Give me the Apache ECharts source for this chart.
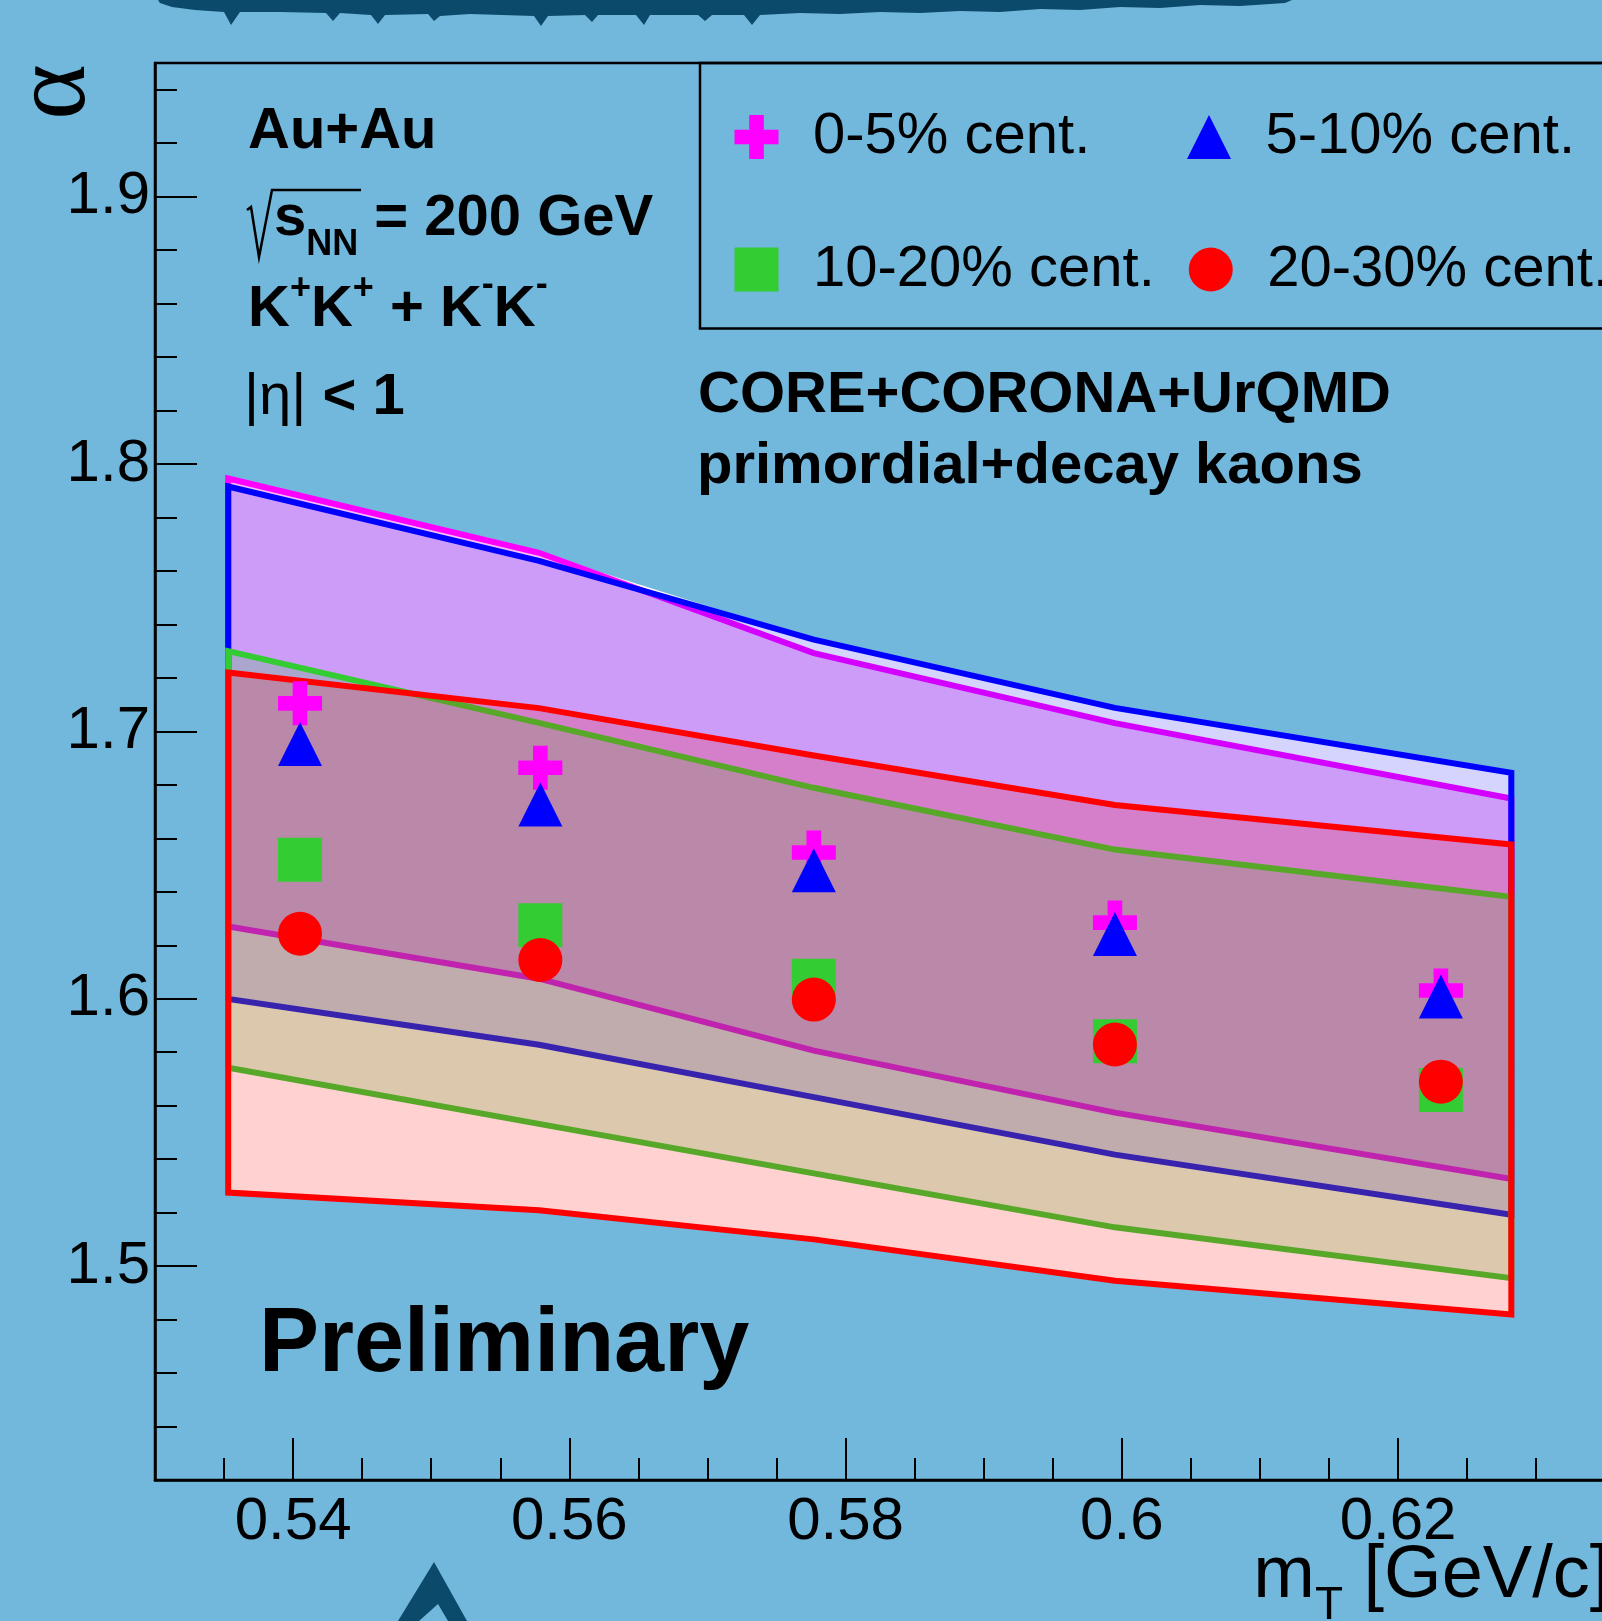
<!DOCTYPE html>
<html>
<head>
<meta charset="utf-8">
<script src="https://cdn.jsdelivr.net/npm/echarts@6/dist/echarts.min.js"></script>
<style>
  html, body { margin: 0; padding: 0; background: #72b7dc; }
  #chart { width: 1602px; height: 1621px; }
</style>
</head>
<body>
<div id="chart"></div>
<script>
// Mean transverse mass of each kT bin [GeV/c]
const mtPoints = [0.5405, 0.5579, 0.5777, 0.5995, 0.6231];

// Levy index alpha per centrality class
const alpha0to5   = [1.7105, 1.6864, 1.6547, 1.6285, 1.6031];
const alpha5to10  = [1.6953, 1.6727, 1.6481, 1.6242, 1.6008];
const alpha10to20 = [1.6520, 1.6275, 1.6067, 1.5841, 1.5659];
const alpha20to30 = [1.6243, 1.6145, 1.5997, 1.5829, 1.5690];

// CORE+CORONA+UrQMD model bands (upper / lower edge at each vertex)
const bandMt = [0.5353, 0.5578, 0.5777, 0.5995, 0.6282];
const band0to5Upper   = [1.7946, 1.7668, 1.7293, 1.7031, 1.6749];
const band0to5Lower   = [1.6270, 1.6075, 1.5806, 1.5574, 1.5326];
const band5to10Upper  = [1.7916, 1.7638, 1.7343, 1.7088, 1.6845];
const band5to10Lower  = [1.5999, 1.5828, 1.5632, 1.5417, 1.5192];
const band10to20Upper = [1.7300, 1.7032, 1.6789, 1.6558, 1.6381];
const band10to20Lower = [1.5742, 1.5532, 1.5347, 1.5145, 1.4955];
const band20to30Upper = [1.7220, 1.7087, 1.6910, 1.6725, 1.6577];
const band20to30Lower = [1.5275, 1.5209, 1.5100, 1.4945, 1.4819];

// Axis tick labels
const xTickLabels = [0.54, 0.56, 0.58, 0.6, 0.62];
const yTickLabels = [1.5, 1.6, 1.7, 1.8, 1.9];

const seriesNames = ['0-5% cent.', '5-10% cent.', '10-20% cent.', '20-30% cent.'];

const FONT = '"Liberation Sans", Arial, Helvetica, sans-serif';
const X_MIN = 0.53, X_MAX = 0.64, Y_MIN = 1.42, Y_MAX = 1.95;

// minor ticks: every 0.005 on x, every 0.02 on y, skipping the labelled ones
const xMinorTicks = [];
for (let k = 107; k <= 127; k++) if (k % 4 !== 0) xMinorTicks.push(+(k * 0.005).toFixed(3));
const yMinorTicks = [];
for (let k = 72; k <= 97; k++) if (k % 5 !== 0) yMinorTicks.push(+(k * 0.02).toFixed(2));

const PLUS = 'path://M1 0H2V1H3V2H2V3H1V2H0V1H1Z';

// filled polygon spanning a model band, outlined like a TGraph fill
function bandSeries(name, upper, lower, stroke, fill, lineWidth) {
  return {
    type: 'custom',
    name: name,
    z: 2,
    silent: true,
    data: bandMt.map((x, i) => [x, upper[i], lower[i]]),
    renderItem(params, api) {
      if (params.dataIndex !== 0) return;
      const top = bandMt.map((x, i) => api.coord([x, upper[i]]));
      const bottom = bandMt.map((x, i) => api.coord([x, lower[i]])).reverse();
      return {
        type: 'polygon',
        shape: { points: top.concat(bottom) },
        style: { fill: fill, stroke: stroke, lineWidth: lineWidth, lineJoin: 'miter' }
      };
    }
  };
}

// opaque white base under the translucent bands
const envelopeUpper = bandMt.map((x, i) => Math.max(band0to5Upper[i], band5to10Upper[i]));

function pointSeries(name, values, symbol, color, size) {
  return {
    type: 'scatter',
    name: name,
    z: 4,
    symbol: symbol,
    symbolSize: size,
    itemStyle: { color: color, opacity: 1 },
    emphasis: { disabled: true },
    data: mtPoints.map((x, i) => [x, values[i]])
  };
}

function legendRow(names, top) {
  return {
    data: names,
    left: 734.5, top: top, width: 1000, orient: 'horizontal', padding: 0,
    itemWidth: 44, itemHeight: 44, itemGap: 34, selectedMode: false,
    textStyle: { fontSize: 58, fontFamily: FONT, color: '#000', width: 340, lineHeight: 44, padding: [0, 0, 0, 29.5] }
  };
}

const topStrip = [[158,0],[1292,0],[1285,3],[1240,6],[1200,5],[1160,8],[1120,7],[1080,10],[1040,9],[1000,12],
  [960,11],[920,13],[880,12],[840,14],[800,13],[760,15],[752,25],[744,15],[712,15],[705,21],[698,15],[650,15],
  [644,25],[636,15],[598,15],[592,22],[585,15],[548,16],[541,26],[534,16],[470,14],[440,16],[434,21],[428,14],
  [385,15],[378,24],[371,15],[340,13],[333,21],[326,13],[280,12],[240,12],[231,25],[224,12],[195,10],[172,7],[160,3]];
const chevron = [[398,1621],[434,1562],[467,1621],[448,1621],[438,1604],[419,1621]];

const chart = echarts.init(document.getElementById('chart'), null, { renderer: 'canvas' });

chart.setOption({
  backgroundColor: '#72b7dc',
  animation: false,
  textStyle: { fontFamily: FONT },
  grid: {
    left: 155, top: 63, right: -72.3, bottom: 141,
    show: true, borderColor: '#000', borderWidth: 2.5, backgroundColor: 'transparent',
    outerBoundsMode: 'none', containLabel: false
  },
  xAxis: [
    {
      type: 'value', min: X_MIN, max: X_MAX, position: 'bottom',
      name: '{m|m}{t|T}{m| [GeV/c]}',
      nameLocation: 'end', nameGap: -64, nameMoveOverlap: false,
      nameTextStyle: {
        align: 'right', verticalAlign: 'top', padding: [61, 0, 0, 0],
        rich: {
          m: { fontSize: 74, fontFamily: FONT, color: '#000', lineHeight: 72 },
          t: { fontSize: 46, fontFamily: FONT, color: '#000', lineHeight: 72, padding: [58, 0, 0, 0] }
        }
      },
      axisLine: { show: true, lineStyle: { color: '#000', width: 2.5 } },
      axisTick: { show: true, inside: true, length: 42, customValues: xTickLabels, lineStyle: { color: '#000', width: 2 } },
      axisLabel: { show: true, customValues: xTickLabels, margin: 12, fontSize: 60, fontFamily: FONT, color: '#000',
        formatter: v => String(v) },
      splitLine: { show: false }
    },
    {
      type: 'value', min: X_MIN, max: X_MAX, position: 'bottom',
      axisLine: { show: false },
      axisTick: { show: true, inside: true, length: 22, customValues: xMinorTicks, lineStyle: { color: '#000', width: 2 } },
      axisLabel: { show: false },
      splitLine: { show: false }
    }
  ],
  yAxis: [
    {
      type: 'value', min: Y_MIN, max: Y_MAX, position: 'left',
      name: 'α', nameLocation: 'end', nameGap: -29, nameRotate: 90, nameMoveOverlap: false,
      nameTextStyle: {
        fontFamily: '"Liberation Serif", "DejaVu Serif", serif', fontSize: 106, color: '#000',
        align: 'center', verticalAlign: 'bottom', lineHeight: 106, padding: [0, 0, 46, 0]
      },
      axisLine: { show: true, lineStyle: { color: '#000', width: 2.5 } },
      axisTick: { show: true, inside: true, length: 42, customValues: yTickLabels, lineStyle: { color: '#000', width: 2 } },
      axisLabel: { show: true, customValues: yTickLabels, margin: 5, fontSize: 60, fontFamily: FONT, color: '#000',
        formatter: v => String(v) },
      splitLine: { show: false }
    },
    {
      type: 'value', min: Y_MIN, max: Y_MAX, position: 'left',
      axisLine: { show: false },
      axisTick: { show: true, inside: true, length: 22, customValues: yMinorTicks, lineStyle: { color: '#000', width: 2 } },
      axisLabel: { show: false },
      splitLine: { show: false }
    }
  ],
  legend: [
    legendRow([seriesNames[0], seriesNames[1]], 108),
    legendRow([seriesNames[2], seriesNames[3]], 240.5)
  ],
  series: [
    bandSeries('envelope', envelopeUpper, band20to30Lower, 'none', '#ffffff', 0),
    bandSeries('model 0-5%', band0to5Upper, band0to5Lower, '#ff00ff', 'rgba(221,7,224,0.27)', 6),
    bandSeries('model 5-10%', band5to10Upper, band5to10Lower, '#0000ff', 'rgba(0,0,255,0.17)', 6),
    bandSeries('model 10-20%', band10to20Upper, band10to20Lower, '#33cc33', 'rgba(51,204,51,0.21)', 6),
    bandSeries('model 20-30%', band20to30Upper, band20to30Lower, '#ff0000', 'rgba(255,0,0,0.18)', 6),
    pointSeries(seriesNames[0], alpha0to5, PLUS, '#ff00ff', 44),
    pointSeries(seriesNames[1], alpha5to10, 'triangle', '#0000ff', 44),
    pointSeries(seriesNames[2], alpha10to20, 'rect', '#33cc33', 44),
    pointSeries(seriesNames[3], alpha20to30, 'circle', '#ff0000', 44)
  ],
  graphic: [
    { type: 'polygon', z: 0, silent: true, shape: { points: topStrip }, style: { fill: '#0b4a6b' } },
    { type: 'polygon', z: 0, silent: true, shape: { points: chevron }, style: { fill: '#0b4a6b' } },
    { type: 'rect', z: 10, silent: true, shape: { x: 700, y: 63, width: 1000, height: 265.5 },
      style: { fill: 'none', stroke: '#000', lineWidth: 2.5 } },
    { type: 'text', z: 10, x: 248, y: 132, silent: true,
      style: { text: 'Au+Au', font: 'bold 58px ' + FONT, fill: '#000', align: 'left', verticalAlign: 'middle', textAlign: 'left', textVerticalAlign: 'middle' } },
    { type: 'polyline', z: 10, silent: true, shape: { points: [[247,210],[251,207],[259,257],[272,190],[361,190]] },
      style: { stroke: '#000', lineWidth: 2.5, fill: 'none' } },
    { type: 'text', z: 10, x: 274, y: 219, silent: true,
      style: {
        text: '{s|s}{n|NN}{s| = 200 GeV}', fill: '#000', align: 'left', verticalAlign: 'middle', textAlign: 'left', textVerticalAlign: 'middle',
        rich: {
          s: { fontSize: 58, fontWeight: 'bold', fontFamily: FONT, fill: '#000', lineHeight: 60 },
          n: { fontSize: 36, fontWeight: 'bold', fontFamily: FONT, fill: '#000', lineHeight: 60, padding: [53, 0, 0, 0] }
        }
      } },
    { type: 'text', z: 10, x: 248, y: 310, silent: true,
      style: {
        text: '{k|K}{p|+}{k|K}{p|+}{k| + K}{m|-}{k|K}{m|-}', fill: '#000', align: 'left', verticalAlign: 'middle', textAlign: 'left', textVerticalAlign: 'middle',
        rich: {
          k: { fontSize: 58, fontWeight: 'bold', fontFamily: FONT, fill: '#000', lineHeight: 60 },
          p: { fontSize: 36, fontWeight: 'bold', fontFamily: FONT, fill: '#000', lineHeight: 60, padding: [0, 0, 42, 0] },
          m: { fontSize: 36, fontWeight: 'bold', fontFamily: FONT, fill: '#000', lineHeight: 60, padding: [0, 0, 50, 0] }
        }
      } },
    { type: 'text', z: 10, x: 244, y: 398, silent: true,
      style: {
        text: '{r||η|}{b| < 1}', fill: '#000', align: 'left', verticalAlign: 'middle', textAlign: 'left', textVerticalAlign: 'middle',
        rich: {
          r: { fontSize: 58, fontFamily: FONT, fill: '#000', lineHeight: 60 },
          b: { fontSize: 58, fontWeight: 'bold', fontFamily: FONT, fill: '#000', lineHeight: 60 }
        }
      } },
    { type: 'text', z: 10, x: 698, y: 396, silent: true,
      style: { text: 'CORE+CORONA+UrQMD', font: 'bold 58px ' + FONT, fill: '#000', align: 'left', verticalAlign: 'middle', textAlign: 'left', textVerticalAlign: 'middle' } },
    { type: 'text', z: 10, x: 697, y: 467, silent: true,
      style: { text: 'primordial+decay kaons', font: 'bold 58px ' + FONT, fill: '#000', align: 'left', verticalAlign: 'middle', textAlign: 'left', textVerticalAlign: 'middle' } },
    { type: 'text', z: 10, x: 259, y: 1346, silent: true,
      style: { text: 'Preliminary', font: 'bold 90px ' + FONT, fill: '#000', align: 'left', verticalAlign: 'middle', textAlign: 'left', textVerticalAlign: 'middle' } }
  ]
});
</script>
</body>
</html>
